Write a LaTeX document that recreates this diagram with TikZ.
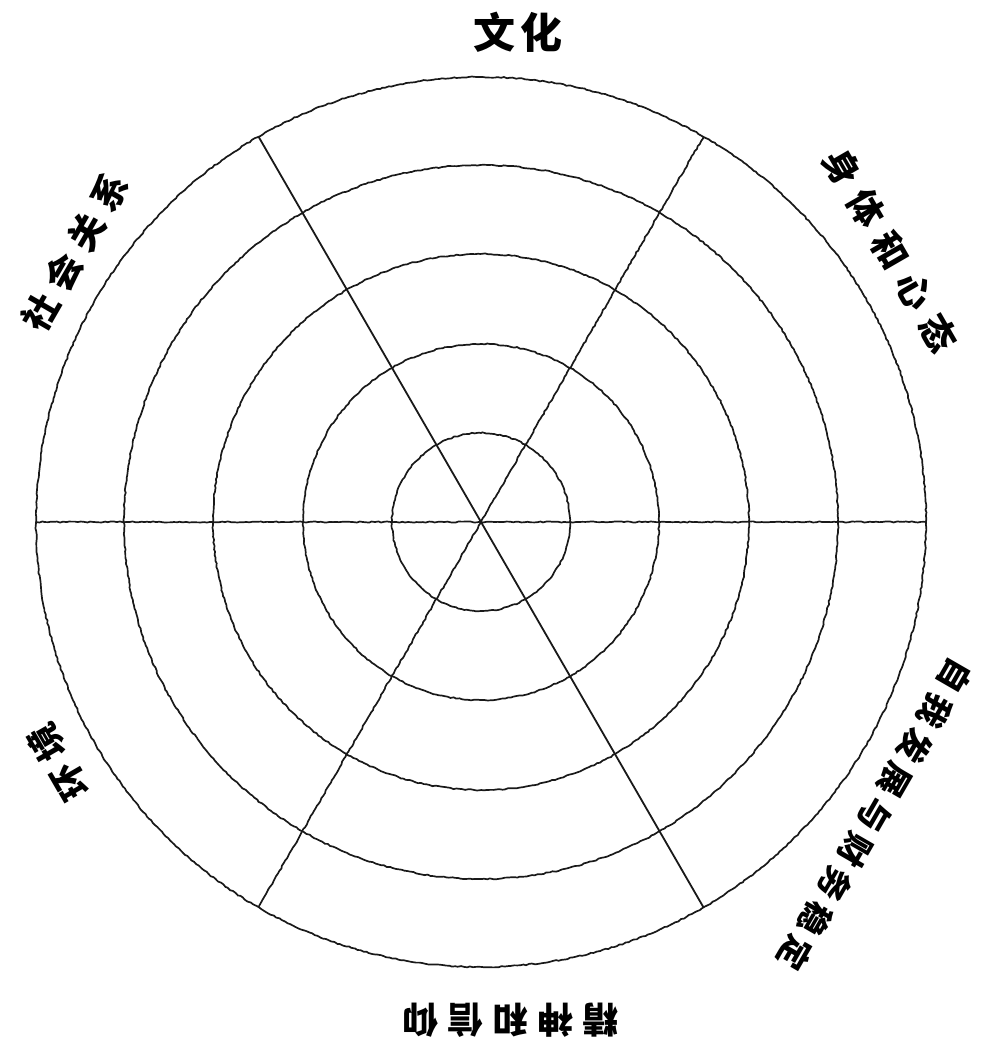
\documentclass[tikz,border=0pt]{standalone}
\usepackage{fontspec}
\newfontfamily\cjk{Noto Sans CJK SC}
\usetikzlibrary{decorations.pathmorphing}
\newcommand\gapx[1]{\hspace{#1pt}}
\begin{document}
\begin{tikzpicture}[x=1pt,y=1pt,
  ring/.style={draw=black!90,line width=1.7pt,decorate,decoration={random steps,segment length=3pt,amplitude=0.6pt}},
  spoke/.style={draw=black!90,line width=1.7pt,decorate,decoration={random steps,segment length=3pt,amplitude=0.6pt}},
  solidspoke/.style={draw=black!90,line width=1.8pt},
  lbl/.style={font=\cjk\bfseries\fontsize{36}{38}\selectfont,inner sep=0pt},
]
\useasboundingbox (0,0) rectangle (993,1041);
\coordinate (c) at (481,519);
\foreach \r in {89,178,268,357,445}{
  \path[ring] (c) circle[radius=\r];
}
\path (c) ++(0:445) coordinate (a0) (c) ++(180:445) coordinate (a180)
      (c) ++(60:445) coordinate (a60) (c) ++(240:445) coordinate (a240)
      (c) ++(120:445) coordinate (a120) (c) ++(300:445) coordinate (a300);
\path[spoke] (a180) -- (a0);
\path[spoke] (a240) -- (a60);
\path[solidspoke] (a120) -- (a300);
\node[lbl,font=\cjk\bfseries\fontsize{42}{44}\selectfont] (t90) at (518,1009) {文\gapx{5}化};
\node[lbl,rotate=-60] (t30) at (890,791) {身\gapx{12}体\gapx{12}和\gapx{12}心\gapx{12}态};
\node[lbl,rotate=-120,font=\cjk\bfseries\fontsize{33}{35}\selectfont] (tm30) at (875,226) {自\gapx{7}我\gapx{7}发\gapx{7}展\gapx{7}与\gapx{7}财\gapx{7}务\gapx{7}稳\gapx{7}定};
\node[lbl,rotate=180] (tm90) at (510,21) {精\gapx{9}神\gapx{9}和\gapx{9}信\gapx{9}仰};
\node[lbl,rotate=120] (t150) at (58,279) {环\gapx{9}境};
\node[lbl,rotate=60] (t210) at (75,789) {社\gapx{10}会\gapx{10}关\gapx{10}系};
\end{tikzpicture}
\end{document}
